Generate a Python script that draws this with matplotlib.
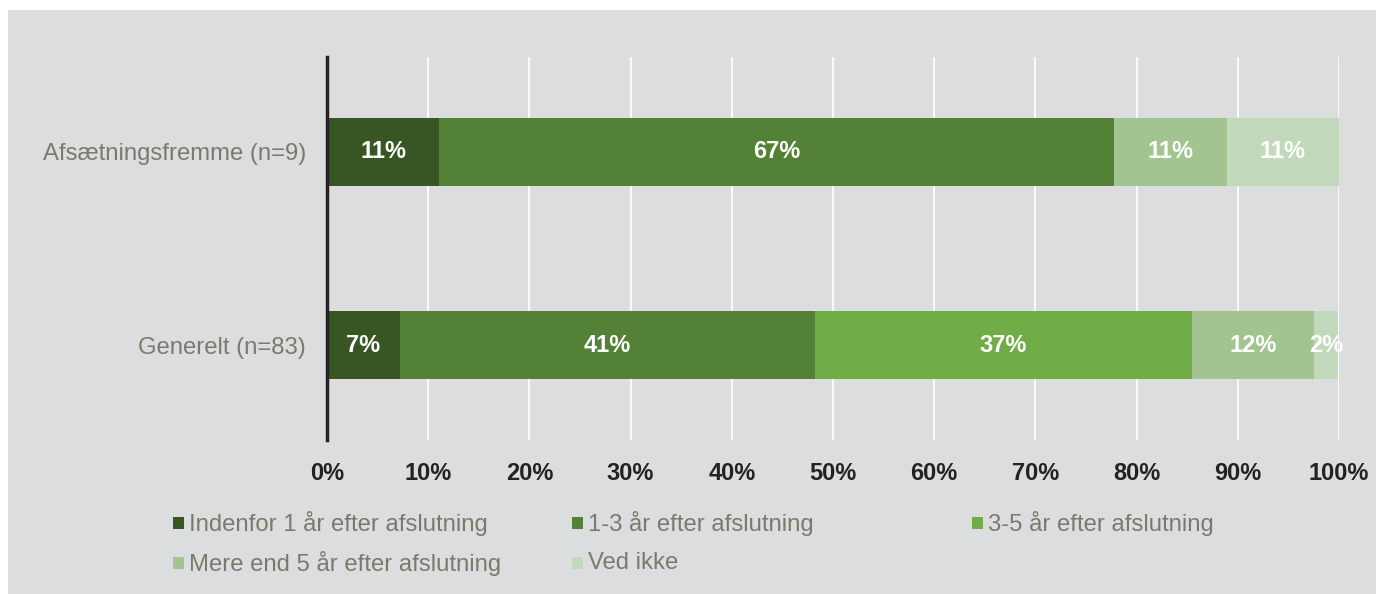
import matplotlib.pyplot as plt
from matplotlib.patches import Rectangle

plt.rcParams["font.family"] = ["Liberation Sans", "DejaVu Sans"]

categories = ["Generelt (n=83)", "Afsætningsfremme (n=9)"]
series = [
    "Indenfor 1 år efter afslutning",
    "1-3 år efter afslutning",
    "3-5 år efter afslutning",
    "Mere end 5 år efter afslutning",
    "Ved ikke",
]
# shares in %, order matches categories
values = [
    [7.2, 11.1],
    [41.0, 66.7],
    [37.3, 0.0],
    [12.0, 11.1],
    [2.4, 11.1],
]
colors = ["#375623", "#538135", "#70AD47", "#A1C490", "#C3D9BC"]
xticks = [0, 10, 20, 30, 40, 50, 60, 70, 80, 90, 100]

BG = "#DCDDDF"
LABEL = "#7A7A6C"

W, H = 1376, 594
fig = plt.figure(figsize=(W / 100, H / 100), dpi=100, facecolor="white")
fig.add_artist(Rectangle((8 / W, 0), 1 - 8 / W, 1 - 10 / H,
                         transform=fig.transFigure, facecolor=BG,
                         edgecolor="none", zorder=0))

ax = fig.add_axes([327 / W, 1 - 440 / H, 1012 / W, 383 / H])
ax.set_facecolor(BG)
ax.patch.set_alpha(0)

ypos = list(range(len(categories)))
left = [0.0] * len(categories)
for name, vals, col in zip(series, values, colors):
    ax.barh(ypos, vals, left=left, height=0.357, color=col, zorder=3)
    for y, v, l in zip(ypos, vals, left):
        if v > 0:
            ax.text(l + v / 2, y, f"{round(v)}%", ha="center", va="center",
                    color="white", fontsize=17, fontweight="bold", zorder=4)
    left = [a + b for a, b in zip(left, vals)]

ax.set_xlim(0, 100)
ax.set_ylim(-0.492, 1.492)
ax.set_xticks(xticks)
ax.set_xticklabels([f"{t}%" for t in xticks])
ax.set_yticks(ypos)
ax.set_yticklabels(categories)
ax.tick_params(axis="x", length=0, pad=16, labelsize=17, labelcolor="#222222")
ax.tick_params(axis="y", length=0, pad=15, labelsize=17.2, labelcolor=LABEL)
for lbl in ax.get_xticklabels():
    lbl.set_fontweight("bold")

for t in xticks[1:]:
    ax.axvline(t, color="white", lw=1.2, zorder=1)
for s in ["top", "right", "bottom"]:
    ax.spines[s].set_visible(False)
ax.spines["left"].set_color("#222222")
ax.spines["left"].set_linewidth(2.5)
ax.spines["left"].set_zorder(5)

# legend, laid out in rows like the original
leg_pos = [(173, 523), (572, 523), (972, 523), (173, 563), (572, 563)]
for (px, py), name, col in zip(leg_pos, series, colors):
    fig.add_artist(Rectangle((px / W, 1 - (py + 6) / H), 11 / W, 12 / H,
                             transform=fig.transFigure, facecolor=col,
                             edgecolor="none"))
    fig.text((px + 16) / W, 1 - py / H, name, ha="left", va="center",
             fontsize=17.2, color=LABEL)

fig.savefig("out.png", dpi=100, facecolor=fig.get_facecolor())
